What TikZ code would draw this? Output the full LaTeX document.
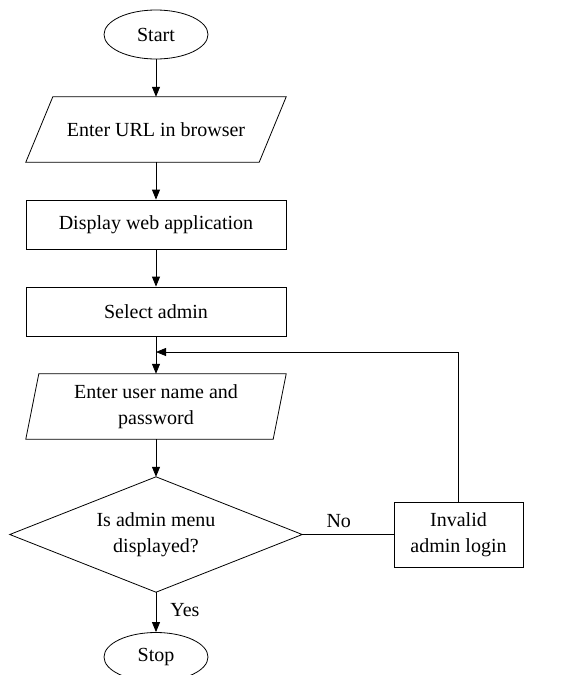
\documentclass[tikz,border=0pt]{standalone}
\usepackage{fontspec}
\setmainfont{Liberation Serif}
\usetikzlibrary{shapes.geometric,arrows.meta}
\begin{document}
\begin{tikzpicture}[x=1pt,y=-1pt,
  every node/.style={font=\fontsize{20}{26.5}\selectfont, inner sep=0pt, align=center},
  line/.style={line width=0.8pt, draw=black},
  arr/.style={line, -{Triangle[length=10pt,width=8pt]}},
  term/.style={ellipse, line, minimum width=104pt, minimum height=49pt},
  boxnode/.style={rectangle, line, minimum width=260pt, minimum height=49pt},
  ghost/.style={rectangle, minimum width=#1, minimum height=65pt},
]
\clip (0,0) rectangle (568,675);
\useasboundingbox (0,0) rectangle (568,675);

\node[term] (start) at (156,34.5) {Start};
\node[ghost=260pt] (in1) at (156,129.5) {Enter URL in browser};
\draw[line] ([xshift=27pt]in1.north west) -- (in1.north east) -- ([xshift=-27pt]in1.south east) -- (in1.south west) -- cycle;
\node[boxnode] (disp) at (156,224.5) {Display web application};
\node[boxnode] (sel) at (156,311.5) {Select admin};
\node[ghost=260pt] (in2) at (156,406.5) {Enter user name and\\password};
\draw[line] ([xshift=13pt]in2.north west) -- (in2.north east) -- ([xshift=-13pt]in2.south east) -- (in2.south west) -- cycle;
\node[rectangle, minimum width=292pt, minimum height=115pt] (dec) at (156,534.5) {Is admin menu\\displayed?};
\draw[line] (dec.north) -- (dec.east) -- (dec.south) -- (dec.west) -- cycle;
\node[rectangle, line, minimum width=129pt, minimum height=65pt] (inv) at (458.5,534.5) {Invalid\\admin login};
\node[term] (stop) at (156,657) {Stop};
\coordinate (merge) at (156,352);

\draw[arr] (start) -- (in1);
\draw[arr] (in1) -- (disp);
\draw[arr] (disp) -- (sel);
\draw[arr] (sel) -- (in2);
\draw[arr] (in2) -- (dec.north);
\draw[arr] (dec.south) -- node[right=14pt, pos=0.45] {Yes} (stop);
\draw[line] (dec.east) -- node[above=6pt, pos=0.4] {No} (inv.west);
\draw[arr] (inv.north) |- (merge);
\end{tikzpicture}
\end{document}
